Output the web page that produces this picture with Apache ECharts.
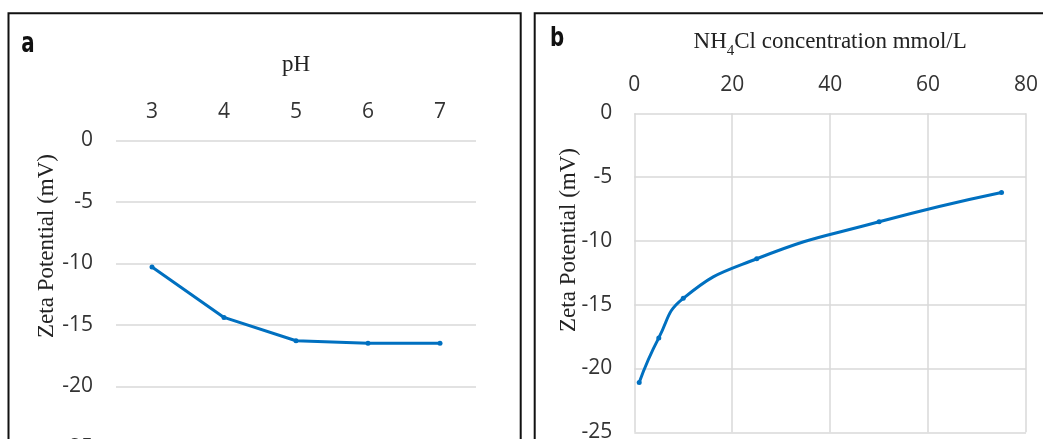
<!DOCTYPE html>
<html>
<head>
<meta charset="utf-8">
<script src="https://cdn.jsdelivr.net/npm/echarts@6/dist/echarts.min.js"></script>
<style>
  html, body { margin: 0; padding: 0; background: #fff; overflow: hidden; }
  #chart { width: 1043px; height: 460px; }
</style>
</head>
<body>
<div id="chart"></div>
<script>
// Panel a: zeta potential against pH
const phLevels = ['3', '4', '5', '6', '7'];
const zetaByPh = [-10.3, -14.4, -16.3, -16.5, -16.5];

// Panel b: zeta potential against NH4Cl concentration (mmol/L)
const nh4clConc = [1, 5, 10, 25, 50, 75];
const zetaByConc = [-21.1, -17.6, -14.5, -11.4, -8.5, -6.2];

// Shared axis ticks
const zetaTicks = { min: -25, max: 0, interval: 5 };
const concTicks = { min: 0, max: 80, interval: 20 };

const SERIF = "'Liberation Serif', 'Times New Roman', serif";
const SANS = "'Open Sans', 'Liberation Sans', sans-serif";
const LETTER = "'Liberation Sans Narrow', 'DejaVu Sans Condensed', sans-serif";
const BLUE = '#0070C0';
const GRID_LINE = '#d9d9d9';
const LABEL = '#333';

const chart = echarts.init(document.getElementById('chart'), null, { renderer: 'canvas' });

const tickLabel = (margin) => ({ color: LABEL, fontFamily: SANS, fontSize: 21, margin: margin });

chart.setOption({
  animation: false,
  backgroundColor: '#fff',
  grid: [
    { left: 116, right: 567, top: 140.3, bottom: 12.2 },
    { left: 634.3, right: 17, top: 113.3, bottom: 27.7 }
  ],
  xAxis: [
    {
      type: 'category', gridIndex: 0, position: 'top', data: phLevels,
      boundaryGap: true,
      axisLine: { show: false }, axisTick: { show: false },
      axisLabel: tickLabel(18),
      splitLine: { show: false },
      name: 'pH', nameLocation: 'middle', nameGap: 64,
      nameTextStyle: { fontFamily: SERIF, fontSize: 23, color: '#222' }
    },
    {
      type: 'value', gridIndex: 1, position: 'top',
      min: concTicks.min, max: concTicks.max, interval: concTicks.interval,
      axisLine: { show: false }, axisTick: { show: false },
      axisLabel: tickLabel(18),
      splitLine: { show: true, lineStyle: { color: GRID_LINE, width: 1.5 } },
      name: 'NH{sub|4}Cl concentration mmol/L', nameLocation: 'middle', nameGap: 60,
      nameTextStyle: {
        fontFamily: SERIF, fontSize: 23, color: '#222',
        rich: {
          sub: { fontFamily: SERIF, fontSize: 15, color: '#222', verticalAlign: 'bottom', lineHeight: 14, padding: [0, 0, -5, 0] }
        }
      }
    }
  ],
  yAxis: [
    {
      type: 'value', gridIndex: 0,
      min: zetaTicks.min, max: zetaTicks.max, interval: zetaTicks.interval,
      axisLine: { show: false }, axisTick: { show: false },
      axisLabel: tickLabel(23),
      splitLine: { show: true, lineStyle: { color: GRID_LINE, width: 1.5 } }
    },
    {
      type: 'value', gridIndex: 1,
      min: zetaTicks.min, max: zetaTicks.max, interval: zetaTicks.interval,
      axisLine: { show: false }, axisTick: { show: false },
      axisLabel: tickLabel(22),
      splitLine: { show: true, lineStyle: { color: GRID_LINE, width: 1.5 } }
    }
  ],
  series: [
    {
      type: 'line', xAxisIndex: 0, yAxisIndex: 0,
      data: zetaByPh,
      symbol: 'circle', symbolSize: 5, showSymbol: true,
      lineStyle: { color: BLUE, width: 3 },
      itemStyle: { color: BLUE }
    },
    {
      type: 'line', xAxisIndex: 1, yAxisIndex: 1,
      data: nh4clConc.map((c, i) => [c, zetaByConc[i]]),
      smooth: 0.5,
      symbol: 'circle', symbolSize: 5, showSymbol: true,
      lineStyle: { color: BLUE, width: 3 },
      itemStyle: { color: BLUE }
    }
  ],
  graphic: [
    // panel frames
    { type: 'rect', shape: { x: 8.5, y: 13.3, width: 512.2, height: 480 },
      style: { fill: null, stroke: '#111', lineWidth: 2 }, silent: true },
    { type: 'rect', shape: { x: 534.7, y: 13.3, width: 540, height: 480 },
      style: { fill: null, stroke: '#111', lineWidth: 2 }, silent: true },
    // panel letters
    { type: 'text', x: 28, y: 45, scaleY: 1.25,
      style: { text: 'a', font: 'bold 22px ' + LETTER, fill: '#111', align: 'center', verticalAlign: 'middle' } },
    { type: 'text', x: 557, y: 39, scaleY: 1.2,
      style: { text: 'b', font: 'bold 22px ' + LETTER, fill: '#111', align: 'center', verticalAlign: 'middle' } },
    // y-axis titles
    { type: 'text', x: 47, y: 246, rotation: Math.PI / 2,
      style: { text: 'Zeta Potential (mV)', font: '23px ' + SERIF, fill: '#222', align: 'center', verticalAlign: 'middle' } },
    { type: 'text', x: 569, y: 240, rotation: Math.PI / 2,
      style: { text: 'Zeta Potential (mV)', font: '23px ' + SERIF, fill: '#222', align: 'center', verticalAlign: 'middle' } }
  ]
});
</script>
</body>
</html>
